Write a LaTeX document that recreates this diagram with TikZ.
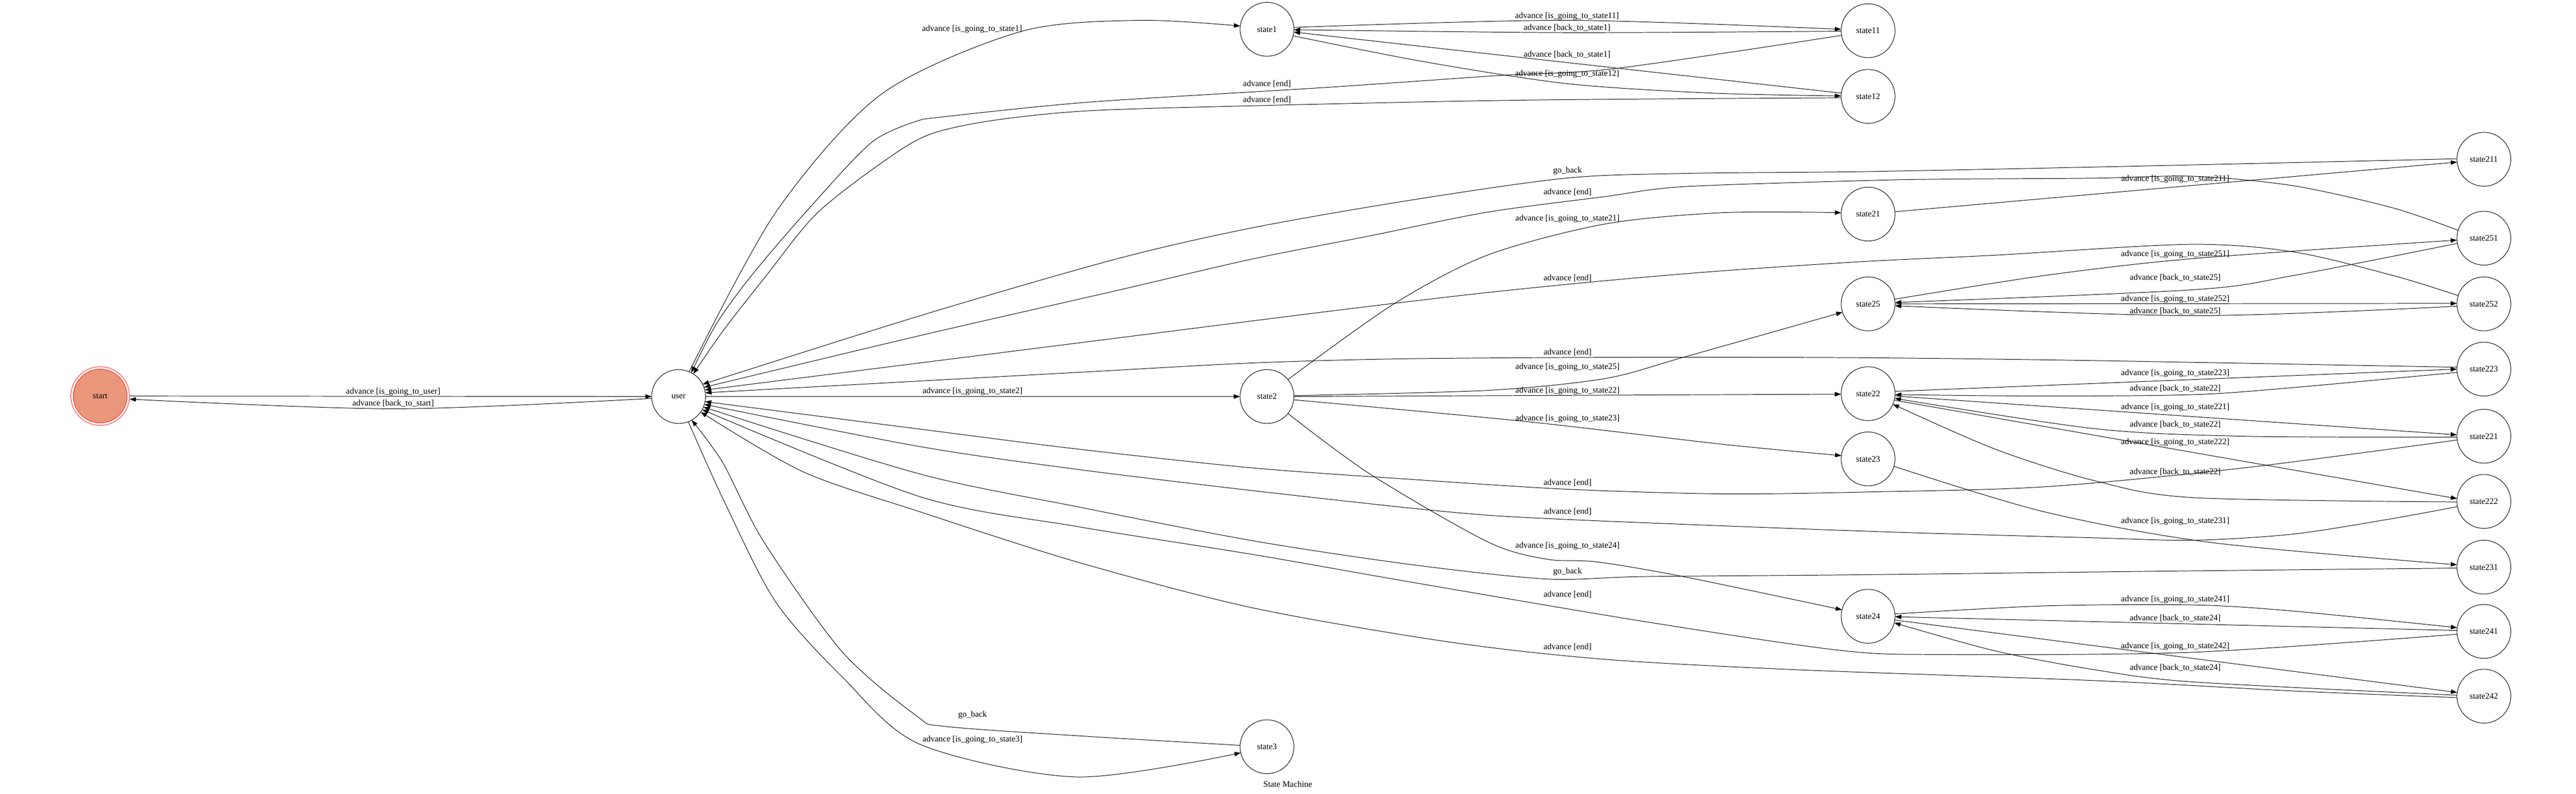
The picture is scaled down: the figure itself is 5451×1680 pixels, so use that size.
\documentclass[tikz,border=0pt]{standalone}
\usepackage{fontspec}
\setmainfont{Liberation Serif}
\usetikzlibrary{arrows.meta}
\definecolor{salmonfill}{RGB}{233,150,122}
\newcommand\gvfont{\fontsize{13.5}{16}\selectfont}
\begin{document}
\begin{tikzpicture}[x=0.75pt,y=-0.75pt,
  st/.style={circle,draw,line width=0.8pt,minimum size=85.5pt,inner sep=0pt,outer sep=0pt,font=\gvfont},
  lbl/.style={inner sep=0pt,font=\gvfont},
  edge/.style={draw,line width=0.8pt,-{Triangle[length=10pt,width=7pt]}},
  ]
\fill[white] (0,0) rectangle (5451,1680);
\useasboundingbox (0,0) rectangle (5451,1680);

% nodes
\node[circle,draw=red,line width=0.75pt,double=white,double distance=3pt,fill=salmonfill,
      minimum size=89.25pt,inner sep=0pt,outer sep=2.25pt,font=\gvfont] (start) at (212,838) {start};
\node[st] (user) at (1436,839) {user};
\node[st] (state1) at (2681,62) {state1};
\node[st] (state2) at (2681,839) {state2};
\node[st] (state3) at (2681,1580) {state3};
\node[st] (state11) at (3953,65) {state11};
\node[st] (state12) at (3953,204) {state12};
\node[st] (state21) at (3953,453) {state21};
\node[st] (state25) at (3953,643) {state25};
\node[st] (state22) at (3953,833) {state22};
\node[st] (state23) at (3953,971) {state23};
\node[st] (state24) at (3953,1304) {state24};
\node[st] (state211) at (5256,337) {state211};
\node[st] (state251) at (5256,504) {state251};
\node[st] (state252) at (5256,643) {state252};
\node[st] (state223) at (5256,781) {state223};
\node[st] (state221) at (5256,923) {state221};
\node[st] (state222) at (5256,1061) {state222};
\node[st] (state231) at (5256,1200) {state231};
\node[st] (state241) at (5256,1336) {state241};
\node[st] (state242) at (5256,1473) {state242};

% start <-> user
\draw[edge] (start.0) -- (user.180);
\draw[edge] plot[smooth] coordinates {(user.184) (837,865) (start.354)};

% user -> state1 and returns from state11/state12
\draw[edge] plot[smooth] coordinates {(user.67) (1641,450) (1864,200) (2159,67) (2409,43) (state1.173)};
\draw[edge] plot[smooth] coordinates {(state11.190) (3418,145) (3168,160) (2806,185) (2293,217) (1954,252)}
            plot[smooth] coordinates {(1954,252) (1846,300) (1704,450) (1591,582) (1516,685) (user.62)};
\draw[edge] plot[smooth] coordinates {(state12.183) (3214,212) (2600,225) (2293,235) (2100,255) (1971,283) (1882,333) (1730,450) (1620,585) (1530,700) (user.57)};

% user -> state2 / state3
\draw[edge] (user.0) -- (state2.180);
\draw[edge] plot[smooth] coordinates {(user.291) (1533,1062) (1641,1273) (1782,1432) (1947,1575) (2279,1644) (state3.193)};
\draw[edge] plot[smooth] coordinates {(state3.177) (2300,1558) (2000,1537) (1940,1515) (1782,1379) (1616,1146) (1530,980) (user.299)};

% returns to user (upper)
\draw[edge] plot[smooth] coordinates {(state211.179) (4500,352) (3950,363) (3562,367) (3313,377) (2982,424) (2650,482) (2362,548) (1947,668) (user.27)};
\draw[edge] plot[smooth] coordinates {(state251.163) (5064,440) (4853,393) (4642,373) (4432,377) (4116,379) (3950,382) (3562,395) (3396,416) (3147,449) (2899,499) (2650,548) (2362,615) (1947,710) (user.20)};
\draw[edge] plot[smooth] coordinates {(state252.162) (5064,583) (4853,533) (4632,517) (4221,540) (3950,553) (3645,573) (3396,594) (3147,619) (2899,648) (2650,679) (2279,726) (user.14)};
\draw[edge] plot[smooth] coordinates {(state223.176) (4432,763) (3950,757) (3479,756) (2982,759) (2650,768) (2279,788) (user.8)};

% returns to user (lower)
\draw[edge] plot[smooth] coordinates {(state221.188) (4748,990) (4326,1030) (3950,1041) (3645,1045) (3313,1035) (2982,1014) (2650,990) (2279,950) (1947,908) (user.349)};
\draw[edge] plot[smooth] coordinates {(state222.191) (5064,1097) (4853,1130) (4642,1143) (4432,1138) (3950,1124) (3313,1099) (3064,1083) (2650,1038) (2279,993) (1947,945) (user.343)};
\draw[edge] plot[smooth] coordinates {(state231.182) (4537,1209) (3950,1216) (3479,1220) (3272,1225) (2982,1194) (2650,1144) (2279,1072) (1947,1003) (user.337)};
\draw[edge] plot[smooth] coordinates {(state241.186) (4642,1380) (4116,1385) (3893,1376) (3479,1315) (2982,1231) (2650,1173) (2279,1114) (1947,1051) (user.331)};
\draw[edge] plot[smooth] coordinates {(state242.183) (4853,1462) (4432,1440) (3800,1417) (3396,1395) (3064,1358) (2650,1286) (2279,1189) (1947,1083) (1699,998) (user.325)};

% state1 group
\draw[edge] plot[smooth] coordinates {(state1.4) (3316,43) (state11.177)};
\draw[edge] plot[smooth] coordinates {(state11.181) (3316,69) (state1.359)};
\draw[edge] (state12.173) -- (state1.354);
\draw[edge] plot[smooth] coordinates {(state1.346) (3010,130) (3316,177) (3622,197) (state12.179)};

% state2 group
\draw[edge] plot[smooth] coordinates {(state2.39) (2948,644) (3147,540) (3396,474) (3645,450) (state21.177)};
\draw[edge] plot[smooth] coordinates {(state2.2) (3147,826) (3396,801) (3562,756) (state25.198)};
\draw[edge] (state2.0) -- (state22.181);
\draw[edge] plot[smooth] coordinates {(state2.353) (3230,892) (3645,940) (state23.173)};
\draw[edge] plot[smooth] coordinates {(state2.321) (2899,1003) (3147,1146) (3272,1183) (3380,1189) (3562,1220) (state24.166)};

% state21
\draw[edge] (state21.5) -- (state211.186);
% state25
\draw[edge] plot[smooth] coordinates {(state25.10) (4326,583) (4642,547) (state251.184)};
\draw[edge] plot[smooth] coordinates {(state251.191) (4853,583) (4642,613) (state25.3)};
\draw[edge] (state25.0) -- (state252.179);
\draw[edge] plot[smooth] coordinates {(state252.185) (4642,668) (state25.356)};
% state22
\draw[edge] (state22.5) -- (state223.180);
\draw[edge] plot[smooth] coordinates {(state223.187) (4853,820) (4642,835) (4326,838) (state22.358)};
\draw[edge] (state22.355) -- (state221.177);
\draw[edge] plot[smooth] coordinates {(state221.182) (4748,923) (4432,907) (state22.350)};
\draw[edge] (state22.346) -- (state222.174);
\draw[edge] plot[smooth] coordinates {(state222.181) (4642,1053) (4432,1017) (4221,950) (state22.337)};
% state23
\draw[edge] plot[smooth] coordinates {(state23.344) (4326,1083) (4680,1148) (state231.175)};
% state24
\draw[edge] plot[smooth] coordinates {(state24.5) (4326,1282) (4642,1280) (4853,1293) (state241.172)};
\draw[edge] (state241.178) -- (state24.359);
\draw[edge] (state24.352) -- (state242.172);
\draw[edge] plot[smooth] coordinates {(state242.178) (4642,1443) (4432,1417) (4221,1377) (state24.346)};

% labels
\node[lbl] (l01) at (832,829) {advance [is\_going\_to\_user]};
\node[lbl] (l02) at (832,853) {advance [back\_to\_start]};
\node[lbl] (l03) at (2057,62) {advance [is\_going\_to\_state1]};
\node[lbl] (l04) at (2681,178) {advance [end]};
\node[lbl] (l05) at (2681,211) {advance [end]};
\node[lbl] (l06) at (2058,828) {advance [is\_going\_to\_state2]};
\node[lbl] (l07) at (2058,1513) {go\_back};
\node[lbl] (l08) at (2058,1565) {advance [is\_going\_to\_state3]};
\node[lbl] (l09) at (3316,34) {advance [is\_going\_to\_state11]};
\node[lbl] (l10) at (3316,59) {advance [back\_to\_state1]};
\node[lbl] (l11) at (3316,115) {advance [back\_to\_state1]};
\node[lbl] (l12) at (3316,157) {advance [is\_going\_to\_state12]};
\node[lbl] (l13) at (3317,362) {go\_back};
\node[lbl] (l14) at (3317,407) {advance [end]};
\node[lbl] (l15) at (3317,463) {advance [is\_going\_to\_state21]};
\node[lbl] (l16) at (3317,589) {advance [end]};
\node[lbl] (l17) at (3317,746) {advance [end]};
\node[lbl] (l18) at (3317,777) {advance [is\_going\_to\_state25]};
\node[lbl] (l19) at (3317,827) {advance [is\_going\_to\_state22]};
\node[lbl] (l20) at (3317,886) {advance [is\_going\_to\_state23]};
\node[lbl] (l21) at (3317,1021) {advance [end]};
\node[lbl] (l22) at (3317,1082) {advance [end]};
\node[lbl] (l23) at (3317,1155) {advance [is\_going\_to\_state24]};
\node[lbl] (l24) at (3317,1210) {go\_back};
\node[lbl] (l25) at (3317,1258) {advance [end]};
\node[lbl] (l26) at (3317,1369) {advance [end]};
\node[lbl] (l27) at (4603,379) {advance [is\_going\_to\_state211]};
\node[lbl] (l28) at (4603,538) {advance [is\_going\_to\_state251]};
\node[lbl] (l29) at (4603,587) {advance [back\_to\_state25]};
\node[lbl] (l30) at (4603,633) {advance [is\_going\_to\_state252]};
\node[lbl] (l31) at (4603,658) {advance [back\_to\_state25]};
\node[lbl] (l32) at (4603,790) {advance [is\_going\_to\_state223]};
\node[lbl] (l33) at (4603,822) {advance [back\_to\_state22]};
\node[lbl] (l34) at (4603,862) {advance [is\_going\_to\_state221]};
\node[lbl] (l35) at (4603,898) {advance [back\_to\_state22]};
\node[lbl] (l36) at (4603,936) {advance [is\_going\_to\_state222]};
\node[lbl] (l37) at (4603,999) {advance [back\_to\_state22]};
\node[lbl] (l38) at (4603,1103) {advance [is\_going\_to\_state231]};
\node[lbl] (l39) at (4603,1268) {advance [is\_going\_to\_state241]};
\node[lbl] (l40) at (4603,1308) {advance [back\_to\_state24]};
\node[lbl] (l41) at (4603,1368) {advance [is\_going\_to\_state242]};
\node[lbl] (l42) at (4603,1413) {advance [back\_to\_state24]};
\node[lbl] (title) at (2725,1659) {State Machine};
\end{tikzpicture}
\end{document}
